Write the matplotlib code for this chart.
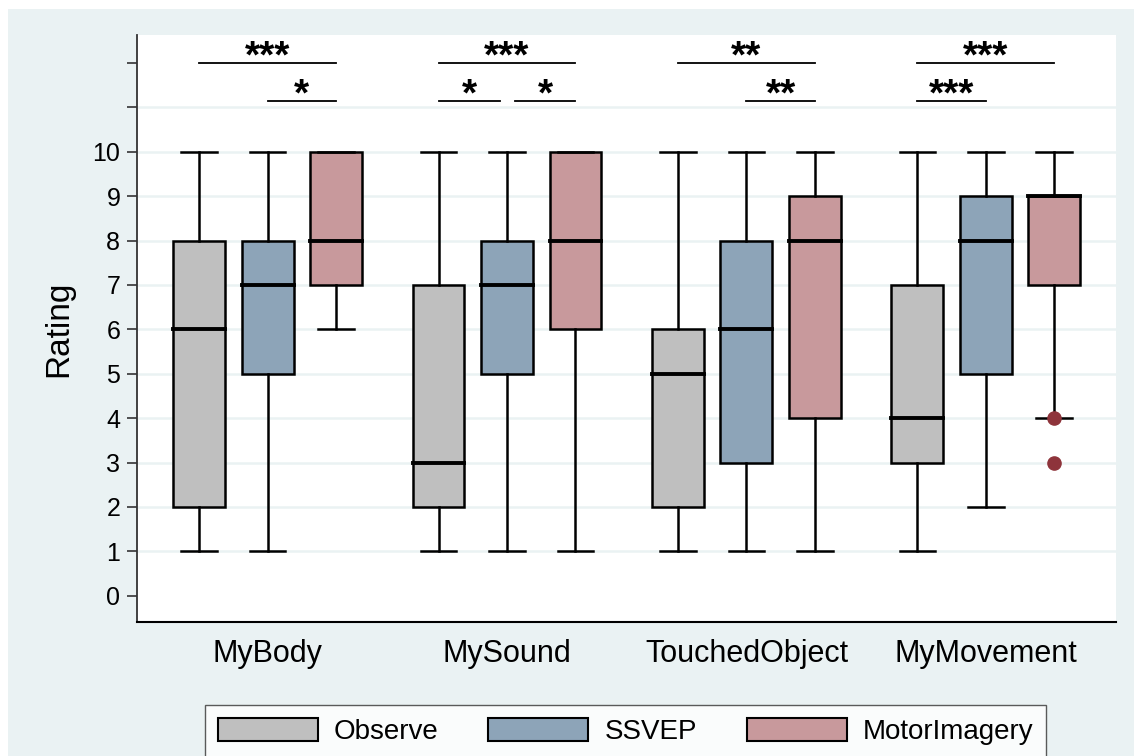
import matplotlib
matplotlib.use("Agg")
import matplotlib.pyplot as plt
from matplotlib.patches import Patch, Rectangle

plt.rcParams['font.family'] = ['Liberation Sans', 'DejaVu Sans']

# --- data ---
groups = ['MyBody', 'MySound', 'TouchedObject', 'MyMovement']
conditions = ['Observe', 'SSVEP', 'MotorImagery']

obs_lo = [1, 1, 1, 1]
obs_q1 = [2, 2, 2, 3]
obs_med = [6, 3, 5, 4]
obs_q3 = [8, 7, 6, 7]
obs_hi = [10, 10, 10, 10]
obs_out = [[], [], [], []]

ssvep_lo = [1, 1, 1, 2]
ssvep_q1 = [5, 5, 3, 5]
ssvep_med = [7, 7, 6, 8]
ssvep_q3 = [8, 8, 8, 9]
ssvep_hi = [10, 10, 10, 10]
ssvep_out = [[], [], [], []]

mi_lo = [6, 1, 1, 4]
mi_q1 = [7, 6, 4, 7]
mi_med = [8, 8, 8, 9]
mi_q3 = [10, 10, 9, 9]
mi_hi = [10, 10, 10, 10]
mi_out = [[], [], [], [4, 3]]

# significance brackets: (group index, first condition, second condition, label, tier)
sig_group = [0, 0, 1, 1, 1, 2, 2, 3, 3]
sig_from = [0, 1, 0, 0, 1, 0, 1, 0, 0]
sig_to = [2, 2, 2, 1, 2, 2, 2, 2, 1]
sig_label = ['***', '*', '***', '*', '*', '**', '**', '***', '***']
sig_tier = [0, 1, 0, 1, 1, 0, 1, 0, 1]

# --- style ---
BG = '#EAF2F3'
colors = ['#BFBFBF', '#8DA4B8', '#C8999C']
outlier_color = '#8E343B'
offsets = [-0.286, 0.0, 0.286]
tier_y = [12.0, 11.15]

fig = plt.figure(figsize=(11.34, 7.56), dpi=100, facecolor='white')
fig.patches.append(Rectangle((8 / 1134, 0), 1, 1 - 9 / 756, transform=fig.transFigure,
                             facecolor=BG, edgecolor='none', zorder=-10))
ax = fig.add_axes([137 / 1134, 1 - 622 / 756, (1116 - 137) / 1134, (622 - 35) / 756])
ax.set_facecolor('white')

series = [
    (obs_lo, obs_q1, obs_med, obs_q3, obs_hi, obs_out),
    (ssvep_lo, ssvep_q1, ssvep_med, ssvep_q3, ssvep_hi, ssvep_out),
    (mi_lo, mi_q1, mi_med, mi_q3, mi_hi, mi_out),
]

for ci, (lo, q1, med, q3, hi, out) in enumerate(series):
    stats = []
    for gi in range(len(groups)):
        stats.append({'whislo': lo[gi], 'q1': q1[gi], 'med': med[gi], 'q3': q3[gi],
                      'whishi': hi[gi], 'fliers': out[gi]})
    pos = [gi + offsets[ci] for gi in range(len(groups))]
    ax.bxp(stats, positions=pos, widths=0.217, capwidths=0.15, patch_artist=True,
           manage_ticks=False, zorder=3,
           boxprops=dict(facecolor=colors[ci], edgecolor='black', linewidth=1.8),
           medianprops=dict(color='black', linewidth=2.8, solid_capstyle='projecting'),
           whiskerprops=dict(color='black', linewidth=1.8),
           capprops=dict(color='black', linewidth=1.8),
           flierprops=dict(marker='o', markerfacecolor=outlier_color,
                           markeredgecolor=outlier_color, markersize=9.5))

# light horizontal grid
for v in range(1, 12):
    ax.axhline(v, color=BG, linewidth=1.8, zorder=0)

# significance brackets
for k in range(len(sig_label)):
    g = sig_group[k]
    x0 = g + offsets[sig_from[k]]
    x1 = g + offsets[sig_to[k]]
    # shorten where two brackets of the same tier meet
    for m in range(len(sig_label)):
        if m == k or sig_group[m] != g or sig_tier[m] != sig_tier[k]:
            continue
        if sig_to[k] == sig_from[m]:
            x1 -= 0.03
        if sig_from[k] == sig_to[m]:
            x0 += 0.035
    y = tier_y[sig_tier[k]]
    ax.plot([x0, x1], [y, y], color='black', linewidth=1.3, zorder=4)
    ax.text((x0 + x1) / 2, y - 0.1, sig_label[k], ha='center', va='baseline',
            fontsize=28, fontweight='bold', zorder=4)

ax.set_xlim(-0.545, 3.543)
ax.set_ylim(-0.59, 12.63)

ax.set_yticks(range(13))
ax.set_yticklabels([str(i) for i in range(11)] + ['', ''])
ax.tick_params(axis='y', length=7, width=1.2, pad=5, labelsize=18, color='#333333')
ax.set_xticks(range(len(groups)))
ax.set_xticklabels(groups)
ax.tick_params(axis='x', length=0, pad=12, labelsize=22)
ax.set_ylabel('Rating', fontsize=24, labelpad=13)

for s in ['top', 'right']:
    ax.spines[s].set_visible(False)
ax.spines['left'].set_color('#333333')
ax.spines['left'].set_linewidth(1.3)
ax.spines['bottom'].set_color('black')
ax.spines['bottom'].set_linewidth(1.5)

handles = [Patch(facecolor=c, edgecolor='black', linewidth=1.5) for c in colors]
leg = fig.legend(handles, conditions, loc='upper left',
                 bbox_to_anchor=(205 / 1134, 1 - 705 / 756), ncol=3, frameon=True,
                 fancybox=False, edgecolor='#333333', fontsize=20, handlelength=3.6,
                 handleheight=0.94, handletextpad=0.58, columnspacing=1.8,
                 borderpad=0.45, borderaxespad=0)
leg.get_frame().set_linewidth(1.0)
leg.get_frame().set_facecolor('white')

fig.savefig('out.png', dpi=100, facecolor=fig.get_facecolor())
